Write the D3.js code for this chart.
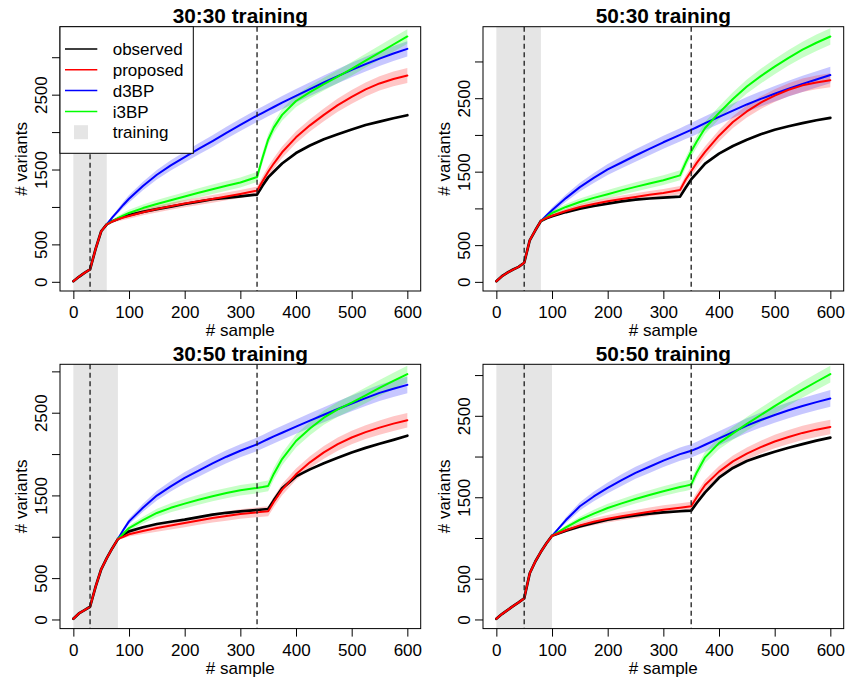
<!DOCTYPE html>
<html>
<head>
<meta charset="utf-8">
<script src="https://cdn.jsdelivr.net/npm/d3@7"></script>
<style>
  body { margin: 0; background: #ffffff; }
  svg { display: block; }
</style>
</head>
<body>
<svg id="chart" width="849" height="685"></svg>
<script>
// ---------------------------------------------------------------
// Data: number of variants found as samples accumulate
// ---------------------------------------------------------------
const sampleX = [0,10,20,30,40,50,60,70,80,90,100,125,150,175,200,225,250,275,300,330,340,350,360,375,400,425,450,475,500,525,550,575,600];

const panelTitles = ["30:30 training", "50:30 training", "30:50 training", "50:50 training"];
const dashedAt = [[30, 330], [50, 350], [30, 330], [50, 350]];
const trainingEnd = [60, 80, 80, 100];

const xTicks = [0, 100, 200, 300, 400, 500, 600];
const yTicks = [0, 500, 1000, 1500, 2000, 2500, 3000];
const yTickLabelled = [0, 500, 1500, 2500];

const legendLabels = ["observed", "proposed", "d3BP", "i3BP", "training"];

// 30:30 training
const observed_3030 = [8,67,120,165,440,675,768,810,840,868,890,935,970,1005,1040,1072,1103,1122,1140,1165,1285,1395,1470,1580,1720,1820,1905,1970,2035,2095,2140,2185,2225];
const proposed_3030 = [8,67,120,165,440,675,768,805,835,858,880,930,972,1010,1045,1077,1107,1140,1174,1218,1345,1470,1580,1730,1930,2090,2230,2360,2470,2570,2650,2710,2755];
const d3bp_3030 = [null,null,null,null,null,null,768,860,945,1030,1110,1280,1430,1555,1665,1775,1880,1990,2095,2220,2258,2297,2335,2393,2485,2575,2662,2748,2830,2908,2982,3050,3112];
const i3bp_3030 = [null,null,null,null,null,null,768,812,850,888,920,985,1040,1090,1140,1190,1237,1282,1326,1400,1660,1900,2060,2230,2415,2535,2640,2740,2845,2955,3060,3170,3277];
const proposedBand_3030 = [null,null,null,null,null,null,0,15,25,32,38,42,45,47,48,50,51,52,53,54,65,70,73,76,80,83,86,89,91,94,96,98,100];
const d3bpBand_3030 = [null,null,null,null,null,null,0,20,32,42,50,58,64,68,72,75,78,80,82,84,85,86,87,88,90,92,94,96,97,99,100,101,102];
const i3bpBand_3030 = [null,null,null,null,null,null,0,18,28,36,42,48,52,56,58,61,63,65,66,67,70,72,74,77,80,83,86,89,91,93,95,97,98];

// 50:30 training
const observed_5030 = [9,77,127,168,204,260,566,702,829,865,893,950,997,1033,1065,1095,1120,1135,1147,1160,1280,1395,1480,1610,1745,1850,1935,2010,2070,2118,2160,2200,2233];
const proposed_5030 = [9,77,127,168,204,260,566,702,829,870,900,965,1020,1060,1097,1127,1156,1185,1211,1250,1390,1505,1620,1770,1990,2175,2320,2440,2535,2615,2675,2715,2745];
const d3bp_5030 = [null,null,null,null,null,null,null,null,829,905,975,1140,1290,1415,1530,1625,1720,1810,1900,2000,2035,2070,2105,2160,2245,2330,2415,2490,2560,2630,2695,2755,2815];
const i3bp_5030 = [null,null,null,null,null,null,null,null,829,880,938,1020,1088,1143,1193,1245,1293,1340,1384,1450,1620,1775,1910,2095,2300,2490,2660,2800,2930,3050,3160,3255,3340];
const proposedBand_5030 = [null,null,null,null,null,null,null,null,0,15,25,32,38,42,45,48,50,52,54,56,58,66,72,75,78,81,84,86,88,90,92,94,95];
const d3bpBand_5030 = [null,null,null,null,null,null,null,null,0,22,36,50,60,68,74,80,84,87,89,91,92,93,94,95,97,99,101,103,105,107,109,111,113];
const i3bpBand_5030 = [null,null,null,null,null,null,null,null,0,18,30,40,46,52,56,60,63,65,67,68,70,76,80,83,88,92,96,100,103,106,109,111,113];

// 30:50 training
const observed_3050 = [8,73,113,154,397,607,741,862,972,1025,1065,1115,1154,1182,1207,1238,1267,1290,1308,1324,1330,1336,1440,1585,1730,1815,1890,1955,2020,2075,2125,2172,2222];
const proposed_3050 = [8,73,113,154,397,607,741,862,972,1000,1030,1070,1105,1135,1166,1197,1227,1252,1275,1295,1302,1308,1420,1570,1755,1900,2020,2120,2200,2265,2320,2368,2409];
const d3bp_3050 = [null,null,null,null,null,null,null,null,972,1085,1186,1350,1498,1610,1713,1800,1887,1968,2040,2118,2150,2182,2213,2258,2332,2405,2475,2545,2612,2677,2740,2790,2837];
const i3bp_3050 = [null,null,null,null,null,null,null,null,972,1040,1105,1200,1288,1350,1401,1448,1490,1528,1563,1591,1602,1615,1760,1940,2158,2310,2440,2540,2622,2710,2800,2885,2967];
const proposedBand_3050 = [null,null,null,null,null,null,null,null,0,18,28,38,44,48,51,53,55,57,58,59,60,61,64,67,70,73,76,79,82,84,86,88,89];
const d3bpBand_3050 = [null,null,null,null,null,null,null,null,0,22,34,48,58,64,69,73,76,78,80,81,82,83,84,85,87,89,91,93,95,97,99,100,101];
const i3bpBand_3050 = [null,null,null,null,null,null,null,null,0,20,30,42,50,55,58,60,62,63,64,65,65,66,70,74,78,82,86,89,92,95,97,99,101];

// 50:50 training
const observed_5050 = [8,66,115,164,210,259,567,711,830,935,1027,1090,1142,1185,1224,1253,1278,1298,1315,1328,1332,1335,1430,1560,1740,1860,1945,2005,2058,2108,2152,2195,2232];
const proposed_5050 = [8,66,115,164,210,259,567,711,830,935,1027,1095,1155,1200,1237,1267,1294,1322,1348,1372,1380,1389,1500,1650,1815,1940,2035,2115,2185,2240,2290,2330,2363];
const d3bp_5050 = [null,null,null,null,null,null,null,null,null,null,1027,1220,1389,1510,1615,1710,1800,1875,1950,2030,2050,2070,2098,2145,2222,2300,2380,2448,2510,2568,2620,2668,2713];
const i3bp_5050 = [null,null,null,null,null,null,null,null,null,null,1027,1130,1224,1300,1368,1425,1479,1528,1574,1625,1640,1656,1805,1990,2165,2285,2400,2510,2618,2722,2822,2918,3012];
const proposedBand_5050 = [null,null,null,null,null,null,null,null,null,null,0,25,35,42,46,49,51,53,54,55,55,56,60,64,68,72,76,79,82,85,87,89,90];
const d3bpBand_5050 = [null,null,null,null,null,null,null,null,null,null,0,35,50,60,66,71,74,77,79,81,82,82,83,85,87,89,91,93,95,97,99,101,103];
const i3bpBand_5050 = [null,null,null,null,null,null,null,null,null,null,0,28,38,46,51,55,57,59,60,61,62,62,66,70,75,80,84,88,92,95,98,101,103];

// ---------------------------------------------------------------
// Panel assembly
// ---------------------------------------------------------------
const panelData = [
  { observed: observed_3030, proposed: proposed_3030, d3bp: d3bp_3030, i3bp: i3bp_3030,
    proposedBand: proposedBand_3030, d3bpBand: d3bpBand_3030, i3bpBand: i3bpBand_3030 },
  { observed: observed_5030, proposed: proposed_5030, d3bp: d3bp_5030, i3bp: i3bp_5030,
    proposedBand: proposedBand_5030, d3bpBand: d3bpBand_5030, i3bpBand: i3bpBand_5030 },
  { observed: observed_3050, proposed: proposed_3050, d3bp: d3bp_3050, i3bp: i3bp_3050,
    proposedBand: proposedBand_3050, d3bpBand: d3bpBand_3050, i3bpBand: i3bpBand_3050 },
  { observed: observed_5050, proposed: proposed_5050, d3bp: d3bp_5050, i3bp: i3bp_5050,
    proposedBand: proposedBand_5050, d3bpBand: d3bpBand_5050, i3bpBand: i3bpBand_5050 }
];

// ---------------------------------------------------------------
// Layout and style
// ---------------------------------------------------------------
const FONT = "'Liberation Sans', Arial, Helvetica, sans-serif";
const frames = [
  { left: 60,  top: 26.7 },
  { left: 483, top: 26.7 },
  { left: 60,  top: 364.3 },
  { left: 483, top: 364.3 }
];
const plotW = 360.7, plotH = 264.3;
const tickLen = 8;
const colors = { observed: "#000000", proposed: "#ff0000", d3bp: "#0000ff", i3bp: "#00ff00" };
const bandColors = { proposed: "rgba(255,0,0,0.22)", d3bp: "rgba(0,0,255,0.22)", i3bp: "rgba(0,255,0,0.22)" };
const trainingFill = "#e5e5e5";

// R-style 4% padding of a range
function padded(ext) {
  const d = (ext[1] - ext[0]) * 0.04;
  return [ext[0] - d, ext[1] + d];
}

const svg = d3.select("#chart");

panelData.forEach((pd, pi) => {
  const fr = frames[pi];
  const g = svg.append("g").attr("transform", `translate(${fr.left},${fr.top})`);

  const x = d3.scaleLinear().domain(padded(d3.extent(sampleX))).range([0, plotW]);
  const allY = [].concat(pd.observed, pd.proposed, pd.d3bp, pd.i3bp).filter(v => v != null);
  const y = d3.scaleLinear().domain(padded(d3.extent(allY))).range([plotH, 0]);

  const clipId = "clip" + pi;
  g.append("clipPath").attr("id", clipId)
    .append("rect").attr("x", 0).attr("y", 0).attr("width", plotW).attr("height", plotH);
  const plot = g.append("g").attr("clip-path", `url(#${clipId})`);

  // training window
  plot.append("rect")
    .attr("x", x(0)).attr("y", 0)
    .attr("width", x(trainingEnd[pi]) - x(0)).attr("height", plotH)
    .attr("fill", trainingFill);

  // uncertainty bands
  const bandOrder = ["d3bp", "i3bp", "proposed"];
  bandOrder.forEach(key => {
    const vals = pd[key], spread = pd[key + "Band"];
    const pts = sampleX.map((sx, i) => ({ x: sx, v: vals[i], s: spread[i] }))
      .filter(p => p.v != null && p.s != null);
    const area = d3.area()
      .x(p => x(p.x))
      .y0(p => y(p.v - p.s))
      .y1(p => y(p.v + p.s));
    plot.append("path").attr("d", area(pts)).attr("fill", bandColors[key]).attr("stroke", "none");
  });

  // lines
  const lineOrder = ["observed", "d3bp", "i3bp", "proposed"];
  lineOrder.forEach(key => {
    const vals = pd[key];
    const pts = sampleX.map((sx, i) => ({ x: sx, v: vals[i] })).filter(p => p.v != null);
    const line = d3.line().x(p => x(p.x)).y(p => y(p.v));
    plot.append("path").attr("d", line(pts))
      .attr("fill", "none")
      .attr("stroke", colors[key])
      .attr("stroke-width", key === "observed" ? 2.7 : 2)
      .attr("stroke-linejoin", "round")
      .attr("stroke-linecap", "round");
  });

  // split markers
  dashedAt[pi].forEach(dx => {
    plot.append("line")
      .attr("x1", x(dx)).attr("x2", x(dx))
      .attr("y1", 0).attr("y2", plotH)
      .attr("stroke", "#1a1a1a").attr("stroke-width", 1.3)
      .attr("stroke-dasharray", "5,3.5");
  });

  // axes
  const xAxis = d3.axisBottom(x).tickValues(xTicks).tickSize(tickLen).tickSizeOuter(0);
  const gx = g.append("g").attr("transform", `translate(0,${plotH})`).call(xAxis);
  gx.select(".domain").remove();
  gx.attr("font-family", FONT).attr("font-size", 17);
  gx.selectAll(".tick line").attr("stroke", "#000");
  gx.selectAll(".tick text").attr("fill", "#000").attr("y", 27.3).attr("dy", 0);

  const yAxis = d3.axisLeft(y).tickValues(yTicks).tickSize(tickLen).tickSizeOuter(0)
    .tickFormat(d => yTickLabelled.includes(d) ? String(d) : "");
  const gy = g.append("g").call(yAxis);
  gy.select(".domain").remove();
  gy.attr("font-family", FONT).attr("font-size", 17);
  gy.selectAll(".tick line").attr("stroke", "#000");
  gy.selectAll(".tick text")
    .attr("fill", "#000")
    .attr("x", 0).attr("y", 0).attr("dy", 0)
    .attr("text-anchor", "middle")
    .attr("transform", "translate(-13.3,0) rotate(-90)");

  // frame
  g.append("rect")
    .attr("x", 0).attr("y", 0).attr("width", plotW).attr("height", plotH)
    .attr("fill", "none").attr("stroke", "#000").attr("stroke-width", 1);

  // titles
  g.append("text")
    .attr("x", plotW / 2).attr("y", -3.3)
    .attr("text-anchor", "middle")
    .attr("font-family", FONT).attr("font-size", 20.8).attr("font-weight", "bold")
    .text(panelTitles[pi]);

  g.append("text")
    .attr("x", plotW / 2).attr("y", plotH + 45.5)
    .attr("text-anchor", "middle")
    .attr("font-family", FONT).attr("font-size", 17)
    .text("# sample");

  g.append("text")
    .attr("transform", `translate(-33.3,${plotH / 2}) rotate(-90)`)
    .attr("text-anchor", "middle")
    .attr("font-family", FONT).attr("font-size", 17)
    .text("# variants");

  // legend (first panel only)
  if (pi === 0) {
    const lg = g.append("g");
    lg.append("rect")
      .attr("x", 0).attr("y", 0).attr("width", 133.3).attr("height", 126.6)
      .attr("fill", "#ffffff").attr("stroke", "#000").attr("stroke-width", 1);
    const keys = ["observed", "proposed", "d3bp", "i3bp"];
    legendLabels.forEach((lab, i) => {
      const cy = 22.3 + i * 20.8;
      if (i < keys.length) {
        lg.append("line")
          .attr("x1", 5).attr("x2", 37.3).attr("y1", cy).attr("y2", cy)
          .attr("stroke", colors[keys[i]]).attr("stroke-width", 1.5);
      } else {
        lg.append("rect")
          .attr("x", 14).attr("y", cy - 7).attr("width", 14).attr("height", 14)
          .attr("fill", trainingFill);
      }
      lg.append("text")
        .attr("x", 52.7).attr("y", cy + 6.2)
        .attr("font-family", FONT).attr("font-size", 17)
        .text(lab);
    });
  }
});
</script>
</body>
</html>
